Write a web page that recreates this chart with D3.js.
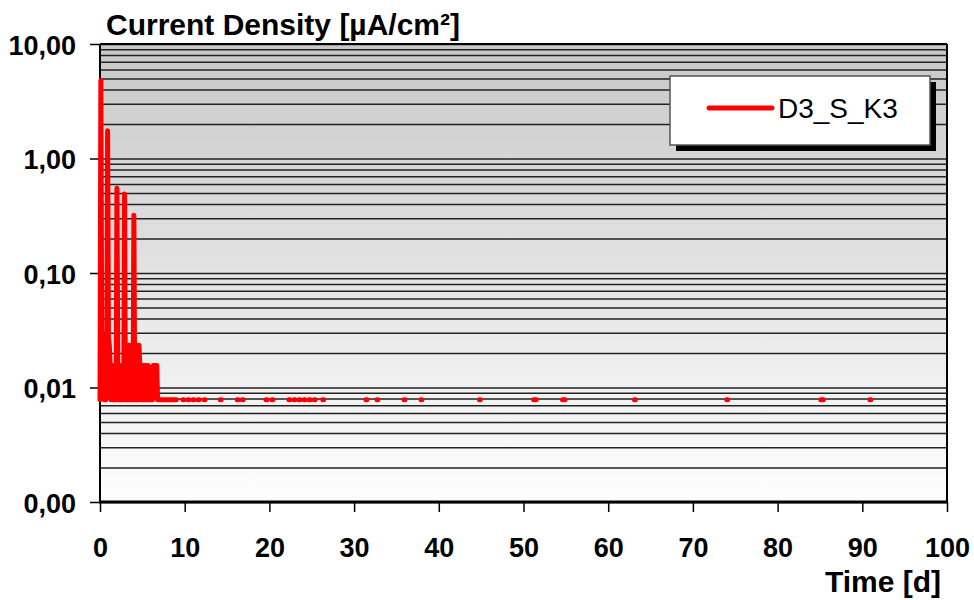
<!DOCTYPE html>
<html>
<head>
<meta charset="utf-8">
<script src="https://cdn.jsdelivr.net/npm/d3@7"></script>
<style>
  body { margin: 0; background: #fff; }
  text { font-family: "Liberation Sans", Arial, sans-serif; }
</style>
</head>
<body>
<div id="chart"></div>
<script>
// early part of the record, one reading every 0.1 d
var days = [
  0.0, 0.1, 0.2, 0.3, 0.4, 0.5, 0.6, 0.7, 0.8, 0.9,
  1.0, 1.1, 1.2, 1.3, 1.4, 1.5, 1.6, 1.7, 1.8, 1.9,
  2.0, 2.1, 2.2, 2.3, 2.4, 2.5, 2.6, 2.7, 2.8, 2.9,
  3.0, 3.1, 3.2, 3.3, 3.4, 3.5, 3.6, 3.7, 3.8, 3.9,
  4.0, 4.1, 4.2, 4.3, 4.4, 4.5, 4.6, 4.7, 4.8, 4.9,
  5.0, 5.1, 5.2, 5.3, 5.4, 5.5, 5.6, 5.7, 5.8, 5.9,
  6.0, 6.1, 6.2, 6.3, 6.4, 6.5, 6.6, 6.7, 6.8,
  7.5, 8.2, 9.0
];
var density = [
  0.0078, 4.8, 0.031, 0.0234, 0.0156, 0.0078, 0.0156, 0.0078, 0.0156, 1.75,
  0.0273, 0.0234, 0.0156, 0.0078, 0.0156, 0.0078, 0.0156, 0.0078, 0.0156, 0.0078,
  0.55, 0.0156, 0.0078, 0.0156, 0.0078, 0.0156, 0.0078, 0.0156, 0.0078, 0.49,
  0.0078, 0.0078, 0.0234, 0.0078, 0.0234, 0.0078, 0.0234, 0.0078, 0.0234, 0.0078,
  0.32, 0.0078, 0.0234, 0.0078, 0.0234, 0.0078, 0.0234, 0.0156, 0.0078, 0.0156,
  0.0078, 0.0156, 0.0078, 0.0156, 0.0078, 0.0156, 0.0078, 0.0156, 0.0078, 0.0078,
  0.0078, 0.0078, 0.0078, 0.0156, 0.0156, 0.0156, 0.0156, 0.0156, 0.0078,
  0.0078, 0.0078, 0.0078
];

// later, scattered short stretches of readings (start / end day)
var laterStart = [9.8, 10.4, 11.0, 11.6, 12.3, 14.2, 16.2, 16.8, 19.6, 20.3,
                  22.3, 22.9, 23.5, 24.1, 24.7, 25.3, 26.3, 31.4, 32.7, 35.9,
                  37.9, 44.8, 51.2, 54.6, 63.1, 74.0, 85.1, 90.9];
var laterEnd   = [9.9, 10.5, 11.1, 11.7, 12.4, 14.3, 16.3, 16.9, 19.7, 20.4,
                  22.4, 23.0, 23.6, 24.2, 24.8, 25.4, 26.4, 31.5, 32.8, 36.0,
                  38.0, 44.9, 51.5, 54.9, 63.2, 74.1, 85.4, 91.0];
var laterDensity = [0.0078, 0.0078, 0.0078, 0.0078, 0.0078, 0.0078, 0.0078, 0.0078, 0.0078, 0.0078,
                    0.0078, 0.0078, 0.0078, 0.0078, 0.0078, 0.0078, 0.0078, 0.0078, 0.0078, 0.0078,
                    0.0078, 0.0078, 0.0078, 0.0078, 0.0078, 0.0078, 0.0078, 0.0078];

var yTicks = [0.001, 0.01, 0.1, 1, 10];
var xTicks = [0, 10, 20, 30, 40, 50, 60, 70, 80, 90, 100];
var seriesName = "D3_S_K3";
var yTitle = "Current Density [µA/cm²]";
var xTitle = "Time [d]";

(function () {

var W = 974, H = 600;
var margin = {top: 44, right: 27, bottom: 98, left: 100},
    width = W - margin.left - margin.right,
    height = H - margin.top - margin.bottom;

var svg = d3.select('#chart')
            .append('svg')
            .attr('width', W)
            .attr('height', H);

var grad = svg.append('defs').append('linearGradient')
              .attr('id', 'bg')
              .attr('x1', 0).attr('y1', 0).attr('x2', 0).attr('y2', 1);
grad.append('stop').attr('offset', '0%').attr('stop-color', '#c8c8c8');
grad.append('stop').attr('offset', '100%').attr('stop-color', '#fefefe');

var g = svg.append('g')
           .attr('transform', 'translate(' + margin.left + ',' + margin.top + ')');

var x = d3.scaleLinear().domain([0, 100]).range([0, width]);
var y = d3.scaleLog().domain([0.001, 10]).range([height, 0]);

// comma as decimal mark, as in the original
var fmt = d3.formatLocale({decimal: ',', thousands: '.', grouping: [3], currency: ['', '']}).format('.2f');

g.append('rect')
 .attr('width', width)
 .attr('height', height)
 .attr('fill', 'url(#bg)');

// grid at every 1..9 of each decade
var grid = g.append('g')
            .call(d3.axisLeft(y).tickValues(y.ticks()).tickSize(-width).tickFormat(''));
grid.select('.domain').remove();
grid.selectAll('line').attr('stroke', '#222').attr('stroke-width', 1.5);

var yAxis = g.append('g')
             .call(d3.axisLeft(y).tickValues(yTicks).tickSize(10).tickPadding(14).tickFormat(fmt));
yAxis.select('.domain').remove();
yAxis.selectAll('line').attr('stroke', '#000').attr('stroke-width', 1.5);
yAxis.selectAll('text')
     .attr('dy', '0.37em')
     .attr('font-size', 27)
     .attr('font-weight', 'bold')
     .attr('fill', '#000');

var xAxis = g.append('g')
             .attr('transform', 'translate(0,' + height + ')')
             .call(d3.axisBottom(x).tickValues(xTicks).tickSize(10).tickPadding(26));
xAxis.select('.domain').remove();
xAxis.selectAll('line').attr('stroke', '#000').attr('stroke-width', 1.5);
xAxis.selectAll('text')
     .attr('dy', '0.71em')
     .attr('font-size', 27)
     .attr('font-weight', 'bold')
     .attr('fill', '#000');

// frame
g.append('line').attr('x1', 0).attr('x2', 0).attr('y1', 0).attr('y2', height)
 .attr('stroke', '#000').attr('stroke-width', 2);
g.append('line').attr('x1', width).attr('x2', width).attr('y1', 0).attr('y2', height)
 .attr('stroke', '#000').attr('stroke-width', 2);
g.append('line').attr('x1', 0).attr('x2', width).attr('y1', 0).attr('y2', 0)
 .attr('stroke', '#000').attr('stroke-width', 2);
g.append('line').attr('x1', -1).attr('x2', width + 1).attr('y1', height).attr('y2', height)
 .attr('stroke', '#000').attr('stroke-width', 3);

// series: early record, then short stretches split by gaps
var points = days.map(function (d, i) { return {t: d, v: density[i]}; });
laterStart.forEach(function (s, i) {
  points.push({t: s, v: null});
  points.push({t: s, v: laterDensity[i]});
  points.push({t: laterEnd[i], v: laterDensity[i]});
});

var line = d3.line()
             .defined(function (d) { return d.v != null; })
             .x(function (d) { return x(d.t); })
             .y(function (d) { return y(d.v); });

g.append('path')
 .datum(points)
 .attr('fill', 'none')
 .attr('stroke', '#ff0000')
 .attr('stroke-width', 5)
 .attr('stroke-linejoin', 'round')
 .attr('stroke-linecap', 'round')
 .attr('d', line);

// legend
var lg = svg.append('g').attr('transform', 'translate(670,76)');
lg.append('rect').attr('x', 6).attr('y', 6).attr('width', 260).attr('height', 69).attr('fill', '#000');
lg.append('rect').attr('width', 260).attr('height', 69)
  .attr('fill', '#fff').attr('stroke', '#555').attr('stroke-width', 1.5);
lg.append('line').attr('x1', 39).attr('x2', 102).attr('y1', 32).attr('y2', 32)
  .attr('stroke', '#ff0000').attr('stroke-width', 5).attr('stroke-linecap', 'round');
lg.append('text').attr('x', 108).attr('y', 42)
  .attr('font-size', 28).attr('fill', '#000')
  .text(seriesName);

// titles
svg.append('text')
   .attr('x', 106).attr('y', 35)
   .attr('font-size', 30).attr('font-weight', 'bold').attr('fill', '#000')
   .text(yTitle);

svg.append('text')
   .attr('x', 941).attr('y', 592)
   .attr('text-anchor', 'end')
   .attr('font-size', 30).attr('font-weight', 'bold').attr('fill', '#000')
   .text(xTitle);

})();
</script>
</body>
</html>
